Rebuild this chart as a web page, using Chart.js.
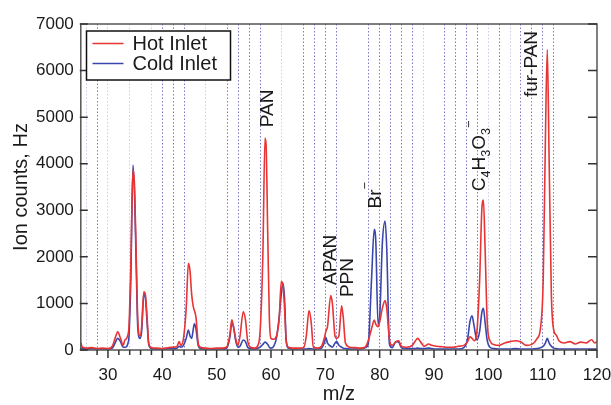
<!DOCTYPE html>
<html>
<head>
<meta charset="utf-8">
<script src="https://cdn.jsdelivr.net/npm/chart.js@4.4.1/dist/chart.umd.min.js"></script>
<style>
  html, body { margin: 0; padding: 0; background: #fff; }
  #wrap { width: 611px; height: 405px; }
</style>
</head>
<body>
<div id="wrap"><canvas id="spectrum" width="611" height="405"></canvas></div>
<script>
// m/z sampling points (denser around the peaks)
var mz = [25, 25.3, 26, 27, 28, 29, 30, 30.8, 31.3, 31.8, 32.3, 32.8, 33.1, 33.8, 34.2, 34.6, 34.9, 35.2, 35.5, 35.9,
  36.2, 36.6, 36.9, 37.2, 37.5, 38, 39, 40, 41, 42, 42.7, 43.1, 43.4, 43.9, 44.4, 44.8, 45.1, 45.4, 45.7, 45.9,
  46.2, 46.6, 47, 48, 49, 50, 51, 51.8, 52.4, 52.8, 53.1, 53.5, 53.9, 54.3, 54.9, 55.3, 55.7, 56.2, 57, 57.6,
  58, 58.5, 58.9, 59.1, 59.4, 59.7, 60, 60.5, 61, 61.5, 61.9, 62.2, 62.5, 62.8, 63.2, 64, 65, 66, 66.5, 67,
  67.4, 67.8, 68.5, 69.3, 69.8, 70.1, 70.4, 71, 71.3, 71.8, 72.1, 72.5, 73, 73.3, 73.7, 74.5, 75.5, 76.5, 77.3, 77.9,
  78.5, 79, 79.3, 79.7, 80, 80.5, 81, 81.3, 81.8, 82.3, 83, 83.5, 84, 85, 86, 86.6, 87, 87.5, 88.2, 89,
  89.6, 90.5, 91.5, 92.5, 93.5, 94.5, 95.5, 96.2, 96.6, 97, 97.4, 97.9, 98.4, 98.8, 99.1, 99.4, 99.8, 100.3, 101, 102,
  103, 104, 105, 106, 107, 108, 109, 109.6, 110.1, 110.5, 110.85, 111.2, 111.6, 112, 112.5, 113, 114, 115, 116, 117,
  118, 119, 119.6, 120];

var hotInlet = [160, 60, 40, 50, 30, 40, 30, 80, 250, 390, 250, 100, 210, 400, 1800, 3870, 3500, 2000, 600, 300,
  500, 1250, 1180, 700, 150, 50, 40, 30, 50, 60, 80, 180, 100, 250, 900, 1860, 1700, 1200, 930, 850,
  700, 150, 60, 40, 30, 40, 40, 60, 300, 650, 500, 250, 100, 300, 820, 650, 200, 60, 40, 100,
  400, 2000, 4550, 4400, 2500, 700, 250, 230, 300, 650, 1470, 1400, 900, 200, 60, 40, 40, 50, 300, 845,
  600, 60, 40, 80, 250, 400, 500, 1170, 1000, 290, 250, 300, 950, 700, 150, 60, 50, 40, 60, 200,
  450, 645, 550, 500, 600, 900, 1060, 900, 230, 100, 180, 200, 80, 60, 100, 200, 250, 180, 80, 130,
  100, 80, 70, 60, 60, 80, 100, 180, 285, 250, 200, 400, 1500, 3000, 3220, 2200, 600, 200, 120, 100,
  150, 180, 200, 170, 100, 120, 250, 470, 1500, 4500, 6450, 4000, 1200, 450, 320, 200, 150, 180, 130, 170,
  150, 220, 150, 180];

var coldInlet = [40, 30, 20, 30, 20, 20, 20, 40, 150, 250, 180, 60, 60, 200, 1500, 3970, 3300, 1800, 450, 250,
  400, 1200, 1100, 600, 120, 30, 20, 20, 30, 30, 40, 80, 60, 100, 250, 430, 300, 250, 450, 560,
  450, 100, 30, 20, 20, 20, 20, 30, 250, 570, 500, 200, 60, 80, 215, 180, 60, 30, 20, 40,
  60, 120, 170, 160, 120, 60, 40, 80, 250, 700, 1200, 1430, 1100, 200, 40, 20, 20, 20, 20, 30,
  25, 20, 20, 40, 150, 265, 150, 80, 60, 150, 180, 100, 60, 40, 30, 20, 20, 20, 50, 130,
  1500, 2590, 2300, 550, 700, 2300, 2770, 2200, 130, 50, 180, 170, 50, 30, 30, 30, 40, 30, 30, 40,
  30, 20, 20, 20, 20, 20, 50, 250, 600, 736, 500, 215, 400, 800, 893, 600, 200, 60, 30, 20,
  20, 20, 30, 20, 20, 20, 30, 50, 80, 150, 250, 150, 80, 40, 30, 20, 20, 20, 20, 20,
  20, 20, 20, 20];

var seriesNames = ['Hot Inlet', 'Cold Inlet'];
var xTickLabels = [30, 40, 50, 60, 70, 80, 90, 100, 110, 120];
var yTickLabels = [0, 1000, 2000, 3000, 4000, 5000, 6000, 7000];

// dotted reference lines (m/z), stronger and fainter ones
var darkGridMz = [28, 40, 42, 44, 52, 54, 56, 58, 66, 68, 70, 72, 78, 80, 82, 84, 86, 92, 94, 96, 98, 102, 106, 108, 110, 112];
var lightGridMz = [26, 30, 34, 38, 48, 62, 88, 100, 104];

// peak labels: text pieces, anchored at (m/z, counts) of the text's lower end
var peakLabels = [
  { mz: 59.2, at: 4785, parts: [{ t: 'PAN' }] },
  { mz: 70.7, at: 1395, parts: [{ t: 'APAN' }] },
  { mz: 73.8, at: 1137, parts: [{ t: 'PPN' }] },
  { mz: 79.0, at: 3040, parts: [{ t: 'Br' }, { t: '\u2212', sup: true }] },
  { mz: 98.1, at: 3410, parts: [{ t: 'C' }, { t: '4', sub: true }, { t: 'H' }, { t: '3', sub: true }, { t: 'O' }, { t: '3', sub: true }, { t: '\u2212', sup: true }] },
  { mz: 107.7, at: 5430, parts: [{ t: 'fur-PAN' }] }
];

var FONT = "'Liberation Sans', Arial, Helvetica, sans-serif";
var TEXT = '#1a1a1a';

function toPoints(values) {
  var pts = [];
  for (var i = 0; i < mz.length; i++) pts.push({ x: mz[i], y: values[i] });
  return pts;
}

// extra drawing: frame, inside ticks, legend box, peak labels
var decorations = {
  id: 'decorations',
  afterDatasetsDraw: function(chart) {
    var ctx = chart.ctx;
    var a = chart.chartArea;
    var xs = chart.scales.x;
    var ys = chart.scales.y;
    ctx.save();

    // frame
    ctx.strokeStyle = '#555';
    ctx.lineWidth = 1.5;
    ctx.strokeRect(a.left, a.top, a.right - a.left, a.bottom - a.top);

    // y ticks pointing inside, both sides
    ctx.strokeStyle = '#333';
    ctx.lineWidth = 1.5;
    for (var v of yTickLabels) {
      var py = ys.getPixelForValue(v);
      ctx.beginPath();
      ctx.moveTo(a.left - 1, py); ctx.lineTo(a.left + 7, py);
      ctx.moveTo(a.right - 9, py); ctx.lineTo(a.right, py);
      ctx.stroke();
    }
    // x ticks below the axis, long ones at the labels
    for (var t of xs.ticks) {
      var px = xs.getPixelForValue(t.value);
      var len = xTickLabels.indexOf(t.value) >= 0 ? 8 : 5;
      ctx.beginPath();
      ctx.moveTo(px, a.bottom); ctx.lineTo(px, a.bottom + len);
      ctx.stroke();
    }

    // legend
    var lx = 86.5, ly = 31, lw = 144, lh = 49;
    ctx.fillStyle = '#fff';
    ctx.fillRect(lx, ly, lw, lh);
    ctx.strokeStyle = '#111';
    ctx.lineWidth = 1.5;
    ctx.strokeRect(lx, ly, lw, lh);
    ctx.font = '20px ' + FONT;
    ctx.textBaseline = 'middle';
    ctx.textAlign = 'left';
    chart.data.datasets.forEach(function(ds, i) {
      var cy = ly + 12.5 + i * 20;
      ctx.strokeStyle = ds.borderColor;
      ctx.lineWidth = 1.5;
      ctx.beginPath();
      ctx.moveTo(lx + 6, cy); ctx.lineTo(lx + 37, cy);
      ctx.stroke();
      ctx.fillStyle = TEXT;
      ctx.fillText(ds.label, lx + 46, cy + 1);
    });

    // rotated peak labels
    var size = 19;
    for (var lab of peakLabels) {
      var x0 = xs.getPixelForValue(lab.mz);
      var y0 = ys.getPixelForValue(lab.at);
      ctx.save();
      ctx.translate(x0, y0);
      ctx.rotate(-Math.PI / 2);
      ctx.textBaseline = 'alphabetic';
      ctx.textAlign = 'left';
      ctx.fillStyle = TEXT;
      var cx = 0;
      var base = size * 0.36;
      for (var p of lab.parts) {
        var s = (p.sub || p.sup) ? size * 0.66 : size;
        var dy = p.sub ? size * 0.26 : (p.sup ? -size * 0.62 : 0);
        ctx.font = s + 'px ' + FONT;
        ctx.fillText(p.t, cx, base + dy);
        cx += ctx.measureText(p.t).width;
      }
      ctx.restore();
    }
    ctx.restore();
  }
};

var ctxEl = document.getElementById('spectrum');
var spectrumChart = new Chart(ctxEl, {
  type: 'line',
  data: {
    datasets: [{
      label: seriesNames[0],
      data: toPoints(hotInlet),
      borderColor: 'rgb(232, 52, 52)',
      borderWidth: 1.6,
      pointRadius: 0,
      cubicInterpolationMode: 'monotone',
      fill: false
    }, {
      label: seriesNames[1],
      data: toPoints(coldInlet),
      borderColor: 'rgb(58, 70, 172)',
      borderWidth: 1.6,
      pointRadius: 0,
      cubicInterpolationMode: 'monotone',
      fill: false
    }]
  },
  options: {
    responsive: false,
    animation: false,
    events: [],
    layout: { padding: { top: 24, right: 0, left: 0, bottom: 0 } },
    plugins: {
      legend: { display: false },
      tooltip: { enabled: false }
    },
    scales: {
      x: {
        type: 'linear',
        min: 25,
        max: 120,
        afterBuildTicks: function(scale) {
          scale.ticks = scale.ticks.filter(function(t) { return t.value % 2 === 0; });
        },
        afterFit: function(scale) {
          scale.height = 55;
          scale.paddingLeft = 0;
          scale.paddingRight = 14;
        },
        ticks: {
          stepSize: 2,
          autoSkip: false,
          maxRotation: 0,
          padding: 15,
          color: TEXT,
          font: { family: FONT, size: 17 },
          callback: function(v) { return xTickLabels.indexOf(v) >= 0 ? String(v) : ''; }
        },
        grid: { display: false, drawTicks: false },
        border: { display: false },
        title: {
          display: true,
          text: 'm/z',
          color: TEXT,
          font: { family: FONT, size: 20, lineHeight: 1 },
          padding: { top: 0, bottom: 1 }
        }
      },
      xg: {
        type: 'linear',
        position: 'top',
        min: 25,
        max: 120,
        afterBuildTicks: function(scale) {
          scale.ticks = darkGridMz.concat(lightGridMz).map(function(v) { return { value: v }; });
        },
        afterFit: function(scale) {
          scale.height = 0;
          scale.paddingLeft = 0;
          scale.paddingRight = 0;
        },
        ticks: { display: false },
        border: { display: false, dash: [1.5, 2] },
        grid: {
          drawTicks: false,
          lineWidth: 1,
          color: function(c) {
            return darkGridMz.indexOf(c.tick.value) >= 0 ? 'rgba(100, 100, 200, 0.85)' : 'rgba(170, 170, 215, 0.6)';
          }
        }
      },
      y: {
        min: 0,
        max: 7000,
        afterFit: function(scale) { scale.width = 80.8; },
        afterBuildTicks: function(scale) {
          scale.ticks = yTickLabels.map(function(v) { return { value: v }; });
        },
        ticks: {
          padding: 7,
          color: TEXT,
          font: { family: FONT, size: 17 },
          callback: function(v) { return String(v); }
        },
        grid: { display: false, drawTicks: false },
        border: { display: false },
        title: {
          display: true,
          text: 'Ion counts, Hz',
          color: TEXT,
          font: { family: FONT, size: 20, lineHeight: 1 },
          padding: { top: 11, bottom: 0 }
        }
      }
    }
  },
  plugins: [decorations]
});
</script>
</body>
</html>
